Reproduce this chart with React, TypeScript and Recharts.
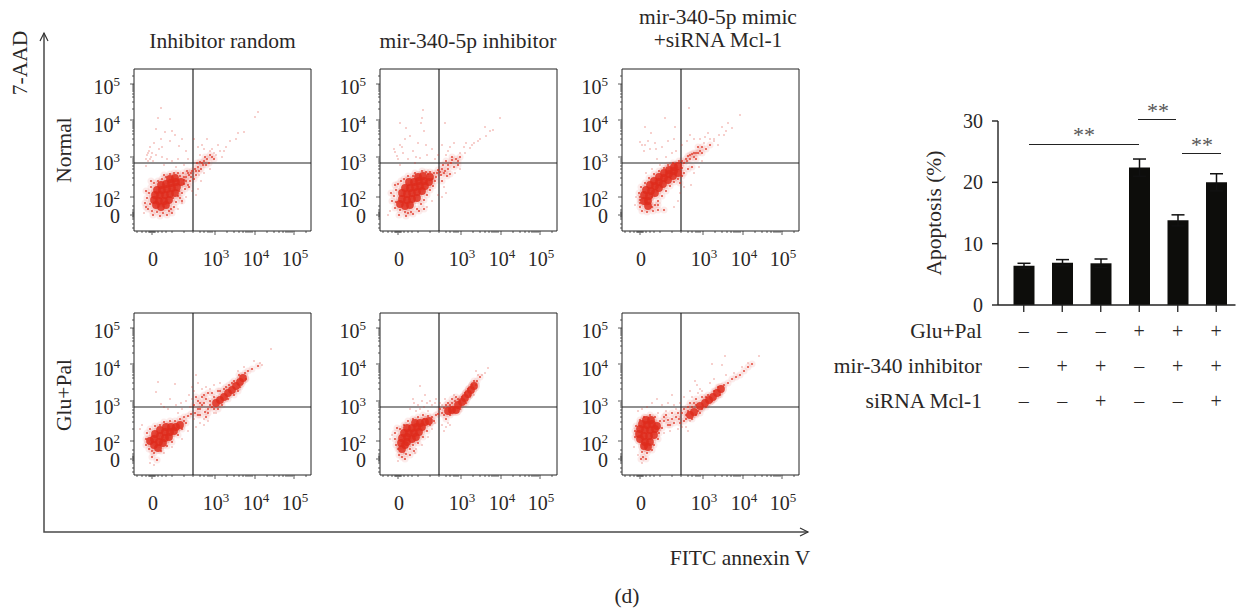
import {
  Bar,
  BarChart,
  ErrorBar,
  ReferenceLine,
  Scatter,
  ScatterChart,
  XAxis,
  YAxis,
} from "recharts";

type Pt = [number, number];

const SERIF = "'Liberation Serif', serif";
const INK = "#2a2726";
const RED = "#de2c1c";

// flow panels: values are instrument channels, x 0-177, y 0-162
const xMajorTicks = [18, 81, 121, 160];
const xMajorLabels = ["0", "3", "4", "5"];
const xMinorTicks = [3, 8, 12, 15, 16, 17, 19, 20, 21, 24, 28, 32, 38, 50, 59, 66, 70, 74, 76, 78, 93, 100, 105, 109, 112, 114, 116, 118, 133, 140, 145, 149, 152, 154, 156, 158, 172];
const yMajorTicks = [16, 34, 74, 111, 147];
const yMajorLabels = ["0", "2", "3", "4", "5"];
const yLabelShift = [8, 10, 13, 12, 10];
const yMinorTicks = [3, 7, 12, 14, 15, 17, 18, 19, 21, 25, 46, 53, 58, 62, 65, 68, 70, 72, 86, 92, 97, 100, 103, 105, 107, 109, 122, 129, 134, 137, 140, 142, 144, 146, 155];

const gateX = 59;
const gateY = 68;

const p1Core: Pt[] = [[22,26],[27,24],[32,26],[20,31],[25,30],[30,30],[35,31],[21,36],[26,36],[31,36],[36,37],[41,38],[23,41],[28,41],[33,42],[38,43],[43,44],[27,46],[32,47],[37,48],[42,49],[47,49],[36,52],[41,53]];
const p1Mid: Pt[] = [[14,22],[16,27],[13,33],[15,38],[17,44],[18,20],[23,19],[29,18],[35,20],[40,24],[42,29],[46,33],[48,38],[51,42],[54,46],[52,50],[56,50],[57,54],[50,54],[46,55],[44,58],[49,58],[54,58],[58,60],[20,48],[24,50],[28,52],[32,54],[36,57],[40,58],[17,50],[44,35],[39,33],[45,40],[50,47],[55,44],[19,16],[26,15],[33,16],[38,18],[11,28],[12,40],[60,52],[62,56],[61,62],[64,64],[67,62],[69,66],[72,66],[66,69],[63,68],[70,70],[75,68],[73,72],[78,74],[80,72],[52,54],[55,56],[57,58],[50,51],[53,60],[62,60],[65,60],[68,68],[71,74],[76,76],[12,24],[48,30],[37,22],[30,56]];
const p1Sparse: Pt[] = [[14,78],[12,72],[17,74],[15,80],[19,70],[22,76],[16,84],[20,88],[25,82],[28,74],[33,72],[38,70],[44,72],[27,92],[22,102],[31,99],[41,96],[45,85],[52,80],[36,90],[54,72],[27,123],[36,112],[24,113],[68,86],[73,92],[80,78],[86,80],[84,86],[92,84],[96,90],[104,98],[102,92],[110,99],[124,119],[121,114],[76,80],[66,76],[88,74],[67,50],[64,42],[62,36],[10,18],[48,28],[44,22],[52,34],[58,40],[65,56],[70,58],[76,62],[12,65],[30,66],[42,64],[50,66],[13,76],[16,72],[18,78],[14,70],[70,82],[78,82],[64,84],[82,76],[90,80],[60,92],[48,92],[38,100],[28,84]];

const p2Core: Pt[] = [[20,27],[25,25],[30,26],[22,32],[27,31],[32,32],[37,33],[22,38],[27,37],[32,38],[37,39],[42,40],[25,43],[30,43],[35,44],[40,45],[45,45],[29,49],[34,49],[39,50],[44,50],[49,49],[38,54],[43,55],[50,54]];
const p2Mid: Pt[] = [[15,23],[16,29],[14,35],[16,41],[18,47],[20,21],[25,19],[31,19],[37,22],[41,27],[44,31],[47,36],[50,41],[53,45],[55,50],[56,54],[54,58],[50,59],[46,59],[42,60],[57,58],[58,61],[21,50],[24,52],[28,55],[33,55],[15,46],[19,16],[26,15],[33,17],[39,20],[12,30],[11,38],[62,50],[61,56],[62,62],[65,60],[68,62],[63,66],[68,66],[71,68],[74,64],[72,71],[76,72],[78,70],[70,57],[60,59],[64,58],[67,55],[66,70],[72,74],[80,74],[78,66],[52,52],[48,57],[35,58],[44,22],[28,18]];
const p2Sparse: Pt[] = [[15,79],[17,75],[14,82],[20,86],[23,78],[28,72],[33,80],[40,73],[47,76],[52,82],[25,92],[30,95],[38,88],[44,100],[20,108],[26,103],[42,113],[43,121],[41,108],[55,72],[62,86],[68,80],[74,88],[80,78],[85,78],[90,83],[94,88],[100,92],[106,95],[110,100],[113,101],[120,113],[105,104],[86,88],[64,44],[66,38],[62,34],[10,20],[8,16],[47,24],[52,30],[58,36],[75,58],[80,62],[35,68],[20,66],[65,108],[18,72],[22,84],[36,74],[46,86],[58,76],[66,76],[70,84],[84,84],[92,86],[98,90]];

const p3Core: Pt[] = [[22,30],[26,30],[22,36],[27,35],[24,41],[29,40],[33,38],[28,46],[33,45],[37,43],[32,50],[37,49],[41,47],[37,54],[42,53],[46,51],[42,58],[47,57],[51,55],[47,61],[52,60],[56,58],[52,64],[56,65],[26,25]];
const p3Mid: Pt[] = [[18,24],[20,20],[25,19],[31,20],[36,21],[42,21],[33,26],[36,30],[40,35],[44,40],[48,45],[52,49],[56,52],[18,31],[17,38],[19,44],[23,48],[27,53],[32,57],[37,60],[42,63],[46,66],[51,68],[57,70],[60,63],[62,68],[65,70],[68,72],[72,74],[66,75],[70,77],[74,78],[78,80],[80,84],[76,84],[84,82],[88,86],[62,58],[66,62],[70,64],[60,55],[58,48],[18,28],[30,34],[64,72],[68,76],[72,78],[76,78],[74,72],[80,78],[30,24],[36,26],[18,34],[60,70]];
const p3Sparse: Pt[] = [[18,89],[23,86],[28,82],[33,88],[40,84],[46,90],[23,104],[29,98],[43,113],[52,92],[53,104],[22,80],[60,86],[65,90],[68,96],[72,92],[78,92],[83,94],[86,98],[92,92],[97,96],[104,100],[110,103],[106,108],[100,104],[118,116],[67,123],[92,90],[96,86],[62,44],[58,38],[56,30],[69,46],[52,24],[14,34],[13,26],[35,72],[44,74],[38,66],[30,62],[24,58],[72,58],[77,64],[80,70],[20,86],[26,90],[34,82],[50,78],[54,80],[82,88],[88,92],[102,96]];

const p4Core: Pt[] = [[16,34],[20,30],[24,27],[20,36],[25,33],[29,32],[21,41],[26,39],[31,37],[35,38],[26,45],[31,43],[36,43],[40,44],[32,48],[37,48],[42,48],[46,50],[82,72],[86,75],[90,78],[94,82],[98,85],[102,89],[106,93],[109,97]];
const p4Mid: Pt[] = [[12,36],[13,42],[16,46],[21,49],[26,50],[30,53],[36,54],[41,54],[46,56],[50,58],[54,59],[57,61],[48,46],[52,52],[44,40],[38,33],[33,29],[27,24],[20,22],[18,18],[23,15],[15,26],[12,30],[61,62],[66,60],[71,63],[74,66],[78,68],[66,66],[72,58],[64,74],[68,78],[74,82],[70,72],[62,78],[76,74],[80,78],[78,82],[84,84],[88,70],[90,86],[95,90],[100,94],[105,100],[111,102],[114,104],[118,106],[124,109],[94,76],[100,80],[106,88],[64,66],[68,70],[72,76],[76,70],[66,72],[70,80],[64,60],[60,70],[74,62],[80,66],[84,66],[86,84],[92,88],[98,92],[104,84],[112,96],[18,24],[50,54]];
const p4Sparse: Pt[] = [[22,83],[24,93],[41,91],[27,71],[47,72],[36,76],[52,74],[55,80],[58,88],[62,100],[60,84],[64,92],[72,88],[80,90],[86,92],[137,126],[126,112],[120,114],[110,108],[8,50],[6,46],[16,12],[20,10],[30,22],[38,28],[48,36],[54,44],[62,48],[66,52],[70,50],[74,54],[80,62],[48,66],[34,66],[30,68],[42,70],[56,68],[44,62],[128,110],[104,104],[68,86],[76,86],[82,62],[70,56],[60,56],[58,76]];

const p5Core: Pt[] = [[22,26],[25,30],[21,32],[27,33],[22,37],[27,38],[32,36],[36,38],[24,42],[29,42],[34,42],[39,43],[27,47],[32,47],[37,48],[42,48],[35,52],[40,52],[45,53],[49,54],[68,64],[72,65],[76,65],[78,70],[82,73],[85,77],[88,81],[91,85],[94,89]];
const p5Mid: Pt[] = [[16,30],[15,36],[15,42],[17,47],[20,46],[24,50],[28,54],[33,56],[38,58],[43,60],[48,59],[52,58],[56,60],[58,61],[54,54],[50,50],[47,44],[43,38],[38,32],[33,30],[30,26],[26,21],[22,18],[25,16],[19,20],[30,20],[62,62],[64,67],[66,70],[70,70],[72,72],[75,74],[78,76],[80,74],[80,66],[82,78],[85,82],[88,86],[92,90],[94,94],[97,94],[100,98],[64,60],[70,60],[66,56],[68,72],[72,76],[76,78],[86,72],[90,80],[96,90],[60,66],[44,56],[18,26],[34,24]];
const p5Sparse: Pt[] = [[40,89],[33,76],[50,74],[45,80],[52,70],[47,72],[38,70],[42,74],[30,66],[36,64],[55,72],[60,72],[65,76],[62,70],[105,102],[108,107],[102,100],[98,100],[96,104],[70,50],[66,48],[62,50],[64,44],[12,40],[10,36],[36,26],[42,30],[48,38],[52,46],[55,52],[18,14],[24,22],[35,22],[94,80],[90,78],[74,80],[44,68],[48,64],[40,66],[34,72],[56,76],[68,52]];

const p6Core: Pt[] = [[18,36],[23,33],[28,33],[17,41],[22,39],[27,39],[32,40],[18,46],[23,45],[28,45],[33,46],[20,51],[25,50],[30,51],[35,49],[24,55],[29,55],[22,29],[26,28],[68,60],[72,63],[78,69],[83,72],[87,75],[91,78],[95,82],[99,86]];
const p6Mid: Pt[] = [[13,38],[13,44],[14,49],[18,55],[22,58],[28,60],[33,58],[38,54],[42,54],[46,55],[50,56],[54,58],[57,56],[40,47],[37,42],[36,36],[32,30],[30,25],[25,22],[20,23],[21,18],[19,16],[24,16],[46,50],[52,52],[62,54],[60,62],[64,56],[66,64],[70,56],[74,60],[76,64],[70,68],[74,70],[80,66],[68,72],[74,76],[80,78],[86,80],[92,84],[98,80],[102,90],[106,92],[110,96],[114,98],[118,100],[122,104],[126,108],[130,111],[84,68],[62,66],[66,68],[72,72],[64,60],[78,62],[84,78],[90,74],[96,88],[44,60],[50,62],[56,62],[42,58],[48,50],[58,52]];
const p6Sparse: Pt[] = [[103,119],[137,119],[90,111],[73,94],[100,110],[75,90],[68,84],[62,78],[58,72],[52,70],[46,72],[40,70],[35,76],[30,72],[25,68],[20,66],[50,80],[16,64],[66,44],[64,48],[60,48],[68,54],[56,46],[48,44],[42,42],[20,12],[16,20],[12,28],[88,92],[92,96],[104,100],[112,102],[120,108],[126,112],[80,84],[76,82],[54,66],[44,64],[36,62],[70,78],[78,86],[58,58]];

const panelPoints: { core: Pt[]; mid: Pt[]; sparse: Pt[] }[] = [
  { core: p1Core, mid: p1Mid, sparse: p1Sparse },
  { core: p2Core, mid: p2Mid, sparse: p2Sparse },
  { core: p3Core, mid: p3Mid, sparse: p3Sparse },
  { core: p4Core, mid: p4Mid, sparse: p4Sparse },
  { core: p5Core, mid: p5Mid, sparse: p5Sparse },
  { core: p6Core, mid: p6Mid, sparse: p6Sparse },
];
const panelLeft = [79, 325, 567];
const panelTop = [64, 308];

// bar chart
const groups = ["a", "b", "c", "d", "e", "f"];
const apoptosis = [6.4, 6.9, 6.8, 22.4, 13.8, 20];
const apoptosisErr = [0.4, 0.5, 0.7, 1.4, 0.9, 1.4];
const gluPal = ["–", "–", "–", "+", "+", "+"];
const mirInhibitor = ["–", "+", "+", "–", "+", "+"];
const sirnaMcl = ["–", "–", "+", "–", "–", "+"];
const conditionRows = [gluPal, mirInhibitor, sirnaMcl];
const conditionLabels = ["Glu+Pal", "mir-340 inhibitor", "siRNA Mcl-1"];
const conditionY = [338, 373, 408];
const barData = groups.map((g, i) => ({ g, v: apoptosis[i], e: apoptosisErr[i] }));

const toData = (pts: Pt[]) => pts.map(([x, y]) => ({ x, y }));

const dot = (r: number, opacity: number) => (p: any) => (
  <circle cx={p.cx} cy={p.cy} r={r} fill={RED} fillOpacity={opacity} />
);

const Power = ({ x, y, anchor, exp }: { x: number; y: number; anchor: string; exp: string }) => (
  <text x={x} y={y} textAnchor={anchor} fontFamily={SERIF} fontSize={20} fill={INK}>
    {exp === "0" ? (
      "0"
    ) : (
      <>
        10
        <tspan dy={-8} fontSize={13}>
          {exp}
        </tspan>
      </>
    )}
  </text>
);

const FlowXTick = (props: any) => {
  const { x, y, payload } = props;
  const i = xMajorTicks.indexOf(payload.value);
  return (
    <g>
      <line x1={x} x2={x} y1={y} y2={y + (i >= 0 ? 4 : 2)} stroke="#333" strokeWidth={0.8} />
      {i >= 0 && <Power x={x + 1} y={y + 35} anchor="middle" exp={xMajorLabels[i]} />}
    </g>
  );
};

const FlowYTick = (props: any) => {
  const { x, y, payload } = props;
  const i = yMajorTicks.indexOf(payload.value);
  return (
    <g>
      <line x1={x} x2={x - (i >= 0 ? 4 : 2)} y1={y} y2={y} stroke="#333" strokeWidth={0.8} />
      {i >= 0 && <Power x={x - 14} y={y + yLabelShift[i]} anchor="end" exp={yMajorLabels[i]} />}
    </g>
  );
};

function FlowPanel({ index }: { index: number }) {
  const { core, mid, sparse } = panelPoints[index];
  const row = Math.floor(index / 3);
  const col = index % 3;
  return (
    <div style={{ position: "absolute", left: panelLeft[col], top: panelTop[row] }}>
      <ScatterChart width={237} height={212} margin={{ top: 5, right: 5, left: 0, bottom: 0 }}>
        <XAxis
          type="number"
          dataKey="x"
          domain={[0, 177]}
          ticks={[...xMajorTicks, ...xMinorTicks].sort((a, b) => a - b)}
          interval={0}
          height={45}
          tickSize={0}
          tickMargin={0}
          tick={FlowXTick}
          axisLine={{ stroke: "#222" }}
        />
        <YAxis
          type="number"
          dataKey="y"
          domain={[0, 162]}
          ticks={[...yMajorTicks, ...yMinorTicks].sort((a, b) => a - b)}
          interval={0}
          width={55}
          tickSize={0}
          tickMargin={0}
          tick={FlowYTick}
          axisLine={{ stroke: "#222" }}
        />
        <Scatter data={toData(mid)} shape={dot(3.5, 0.09)} isAnimationActive={false} />
        <Scatter data={toData(core)} shape={dot(6, 0.14)} isAnimationActive={false} />
        <Scatter data={toData(sparse)} shape={dot(0.8, 0.5)} isAnimationActive={false} />
        <Scatter data={toData(mid)} shape={dot(1.1, 0.8)} isAnimationActive={false} />
        <Scatter data={toData(core)} shape={dot(3.9, 0.85)} isAnimationActive={false} />
        <ReferenceLine x={177} stroke="#222" />
        <ReferenceLine y={162} stroke="#222" />
        <ReferenceLine x={gateX} stroke="#222" strokeWidth={1.2} />
        <ReferenceLine y={gateY} stroke="#222" strokeWidth={1.2} />
      </ScatterChart>
    </div>
  );
}

const BarTick = (props: any) => {
  const { x, y, index } = props;
  return (
    <g>
      <line x1={x} x2={x} y1={y} y2={y + 7} stroke="#222" strokeWidth={1.3} />
      {conditionRows.map((row, r) => (
        <text
          key={r}
          x={x}
          y={conditionY[r] - 305 + y}
          textAnchor="middle"
          fontFamily={SERIF}
          fontSize={20}
          fill={INK}
        >
          {row[index]}
        </text>
      ))}
    </g>
  );
};

const txt = { fontFamily: SERIF, fontSize: 21.5, fill: INK };
const star = { fontFamily: SERIF, fontSize: 22, fill: "#555" };

export default function App() {
  return (
    <div style={{ position: "absolute", left: 0, top: 0, width: 1241, height: 610, background: "#fff" }}>
      {panelPoints.map((_, i) => (
        <FlowPanel key={i} index={i} />
      ))}

      <div style={{ position: "absolute", left: 900, top: 100 }}>
        <BarChart width={341} height={320} data={barData} margin={{ top: 21, right: 5.5, left: 0, bottom: 0 }}>
          <XAxis
            dataKey="g"
            height={115}
            padding={{ left: 6.5, right: 0 }}
            interval={0}
            tickSize={0}
            tickMargin={0}
            tick={BarTick}
            axisLine={{ stroke: "#222", strokeWidth: 1.4 }}
          />
          <YAxis
            domain={[0, 30]}
            ticks={[0, 10, 20, 30]}
            width={98}
            tickSize={6}
            tickMargin={9}
            tick={{ fontFamily: SERIF, fontSize: 20, fill: INK }}
            tickLine={{ stroke: "#222", strokeWidth: 1.4 }}
            axisLine={{ stroke: "#222", strokeWidth: 1.4 }}
          />
          <Bar dataKey="v" fill="#0d0d0b" barSize={21} isAnimationActive={false}>
            <ErrorBar dataKey="e" width={6.5} stroke="#111" strokeWidth={1.5} isAnimationActive={false} />
          </Bar>
        </BarChart>
      </div>

      <svg width={1241} height={610} style={{ position: "absolute", left: 0, top: 0, pointerEvents: "none" }}>
        <polyline points="44,33 44,532 808,532" fill="none" stroke="#4a4a4a" strokeWidth={1.5} />
        <polyline points="40,41 44,33 48,41" fill="none" stroke="#333" strokeWidth={1.2} />
        <polyline points="800,528 808,532 800,536" fill="none" stroke="#333" strokeWidth={1.2} />

        <text {...txt} transform="translate(27,63) rotate(-90)" textAnchor="middle">7-AAD</text>
        <text {...txt} transform="translate(71,150) rotate(-90)" textAnchor="middle">Normal</text>
        <text {...txt} transform="translate(71,395) rotate(-90)" textAnchor="middle">Glu+Pal</text>
        <text {...txt} x={222.5} y={48} textAnchor="middle">Inhibitor random</text>
        <text {...txt} x={468} y={48} textAnchor="middle">mir-340-5p inhibitor</text>
        <text {...txt} x={718} y={24} textAnchor="middle">mir-340-5p mimic</text>
        <text {...txt} x={718} y={47} textAnchor="middle">+siRNA Mcl-1</text>
        <text {...txt} x={740} y={565} textAnchor="middle">FITC annexin V</text>
        <text {...txt} x={627} y={603} textAnchor="middle">(d)</text>

        <text {...txt} transform="translate(941,213) rotate(-90)" textAnchor="middle">Apoptosis (%)</text>
        {conditionLabels.map((label, i) => (
          <text key={label} {...txt} x={982} y={conditionY[i]} textAnchor="end">{label}</text>
        ))}

        <line x1={1029} x2={1139} y1={144.5} y2={144.5} stroke="#222" strokeWidth={1.2} />
        <line x1={1138} x2={1176} y1={119.5} y2={119.5} stroke="#222" strokeWidth={1.2} />
        <line x1={1182} x2={1221} y1={153.5} y2={153.5} stroke="#222" strokeWidth={1.2} />
        <text {...star} x={1084} y={142} textAnchor="middle">**</text>
        <text {...star} x={1158} y={118} textAnchor="middle">**</text>
        <text {...star} x={1202} y={152} textAnchor="middle">**</text>
      </svg>
    </div>
  );
}
